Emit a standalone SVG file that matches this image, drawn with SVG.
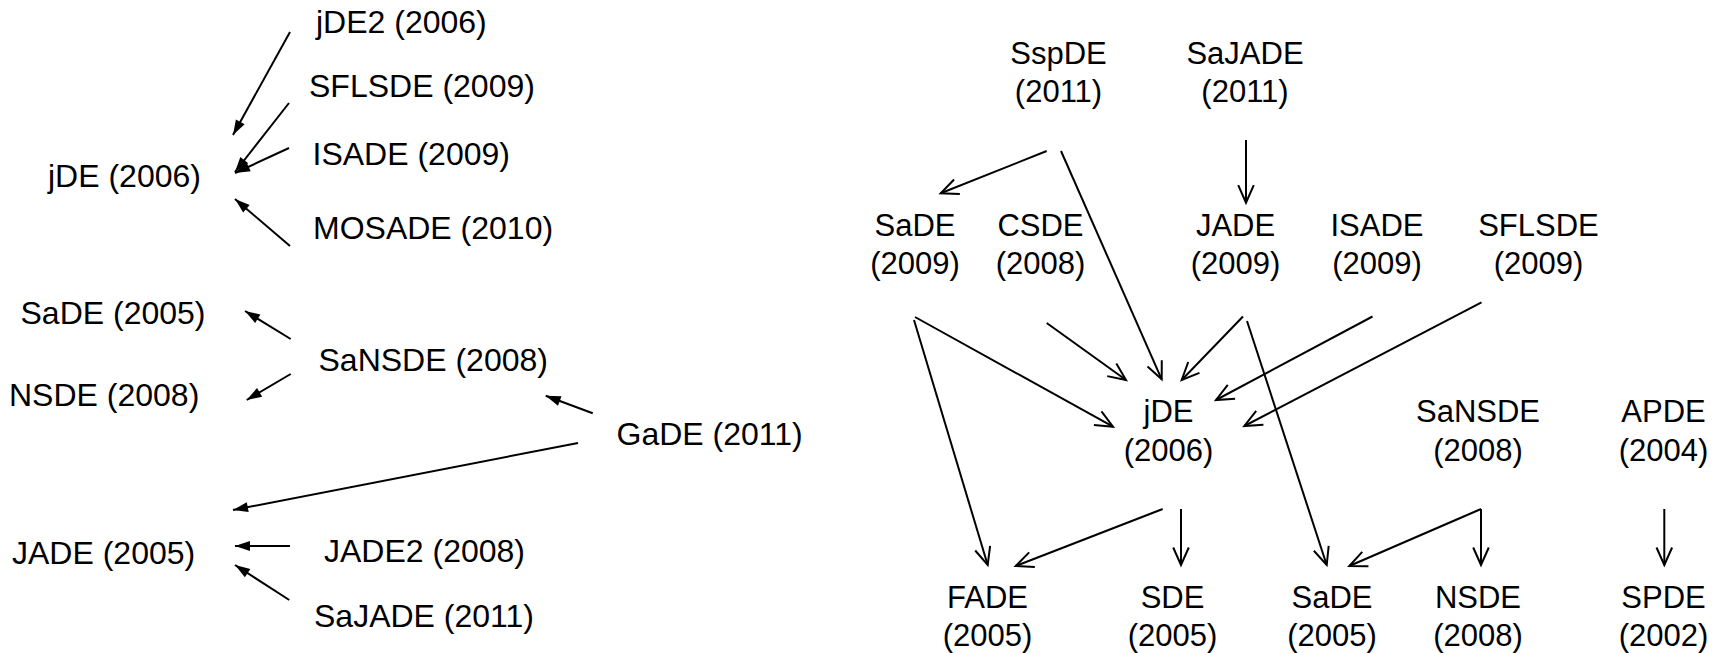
<svg xmlns="http://www.w3.org/2000/svg" width="1724" height="653" viewBox="0 0 1724 653">
<style>
text{font-family:"Liberation Sans",Arial,sans-serif;fill:#000}
.l text{font-size:32px}
.r text{font-size:31px;text-anchor:middle}
.cf line{stroke:#000;stroke-width:2;fill:none;marker-end:url(#af)}
.co line{stroke:#000;stroke-width:2;fill:none;marker-end:url(#ao)}
</style>
<defs>
<marker id="af" viewBox="-16 -6 17 12" refX="0" refY="0" markerWidth="17" markerHeight="12" markerUnits="userSpaceOnUse" orient="auto" overflow="visible">
<path d="M0,0 L-15,-5 L-15,5 z" fill="#000"/>
</marker>
<marker id="ao" viewBox="-20 -10 22 20" refX="0" refY="0" markerWidth="22" markerHeight="20" markerUnits="userSpaceOnUse" orient="auto" overflow="visible">
<path d="M-17.5,-7.8 L0,0 L-17.5,7.8" fill="none" stroke="#000" stroke-width="2"/>
</marker>
</defs>
<rect width="1724" height="653" fill="#fff"/>
<g class="l">
<g id="L_jDE2"><text x="316" y="33">jDE2 (2006)</text></g>
<g id="L_SFLSDE"><text x="309" y="97">SFLSDE (2009)</text></g>
<g id="L_ISADE"><text x="312.5" y="165">ISADE (2009)</text></g>
<g id="L_jDE"><text x="48" y="187">jDE (2006)</text></g>
<g id="L_MOSADE"><text x="313" y="239">MOSADE (2010)</text></g>
<g id="L_SaDE"><text x="20.5" y="324">SaDE (2005)</text></g>
<g id="L_SaNSDE"><text x="318.5" y="371">SaNSDE (2008)</text></g>
<g id="L_NSDE"><text x="9" y="406">NSDE (2008)</text></g>
<g id="L_GaDE"><text x="616.5" y="445">GaDE (2011)</text></g>
<g id="L_JADE"><text x="12" y="564">JADE (2005)</text></g>
<g id="L_JADE2"><text x="324" y="562">JADE2 (2008)</text></g>
<g id="L_SaJADE"><text x="314" y="627">SaJADE (2011)</text></g>
</g>
<g class="r">
<g id="R_SspDE"><text x="1058.5" y="64">SspDE</text><text x="1058.5" y="102">(2011)</text></g>
<g id="R_SaJADE"><text x="1245" y="64">SaJADE</text><text x="1245" y="102">(2011)</text></g>
<g id="R_SaDE2009"><text x="915" y="236">SaDE</text><text x="915" y="274">(2009)</text></g>
<g id="R_CSDE"><text x="1040.5" y="236">CSDE</text><text x="1040.5" y="274">(2008)</text></g>
<g id="R_JADE"><text x="1235.5" y="236">JADE</text><text x="1235.5" y="274">(2009)</text></g>
<g id="R_ISADE"><text x="1377" y="236">ISADE</text><text x="1377" y="274">(2009)</text></g>
<g id="R_SFLSDE"><text x="1538.5" y="236">SFLSDE</text><text x="1538.5" y="274">(2009)</text></g>
<g id="R_jDE"><text x="1168.5" y="422">jDE</text><text x="1168.5" y="461">(2006)</text></g>
<g id="R_SaNSDE"><text x="1478" y="422">SaNSDE</text><text x="1478" y="461">(2008)</text></g>
<g id="R_APDE"><text x="1663.5" y="422">APDE</text><text x="1663.5" y="461">(2004)</text></g>
<g id="R_FADE"><text x="987.5" y="608">FADE</text><text x="987.5" y="646">(2005)</text></g>
<g id="R_SDE"><text x="1172.5" y="608">SDE</text><text x="1172.5" y="646">(2005)</text></g>
<g id="R_SaDE2005"><text x="1332" y="608">SaDE</text><text x="1332" y="646">(2005)</text></g>
<g id="R_NSDE"><text x="1478" y="608">NSDE</text><text x="1478" y="646">(2008)</text></g>
<g id="R_SPDE"><text x="1663.5" y="608">SPDE</text><text x="1663.5" y="646">(2002)</text></g>
</g>
<g id="connectors">
<g class="cf">
<line x1="290" y1="32" x2="233" y2="135"/>
<line x1="289" y1="103" x2="235" y2="172"/>
<line x1="289" y1="148" x2="235" y2="173"/>
<line x1="290" y1="246" x2="235" y2="199"/>
<line x1="290.7" y1="339" x2="245" y2="311"/>
<line x1="290.7" y1="374" x2="246.7" y2="400"/>
<line x1="592.7" y1="413.3" x2="545.7" y2="395.7"/>
<line x1="578" y1="443" x2="233" y2="510"/>
<line x1="290" y1="546" x2="235" y2="546"/>
<line x1="289.3" y1="600" x2="235" y2="565"/>
</g>
<g class="co">
<line x1="1046.7" y1="151" x2="940.7" y2="193.3"/>
<line x1="1061" y1="151" x2="1161.7" y2="379.3"/>
<line x1="1246" y1="140" x2="1246" y2="202.7"/>
<line x1="915" y1="317" x2="1113" y2="426.7"/>
<line x1="914" y1="320" x2="987.7" y2="565"/>
<line x1="1046.7" y1="323" x2="1126" y2="380"/>
<line x1="1243" y1="316.5" x2="1181.7" y2="380"/>
<line x1="1247" y1="321" x2="1326.7" y2="565"/>
<line x1="1372.5" y1="316.5" x2="1216" y2="400"/>
<line x1="1481.5" y1="302.3" x2="1244.3" y2="426"/>
<line x1="1162.7" y1="509" x2="1015.7" y2="566"/>
<line x1="1181" y1="509" x2="1181" y2="565"/>
<line x1="1481" y1="509" x2="1349.3" y2="566"/>
<line x1="1481" y1="509" x2="1481" y2="565"/>
<line x1="1664.3" y1="509" x2="1664.3" y2="565"/>
</g>
</g>
</svg>
